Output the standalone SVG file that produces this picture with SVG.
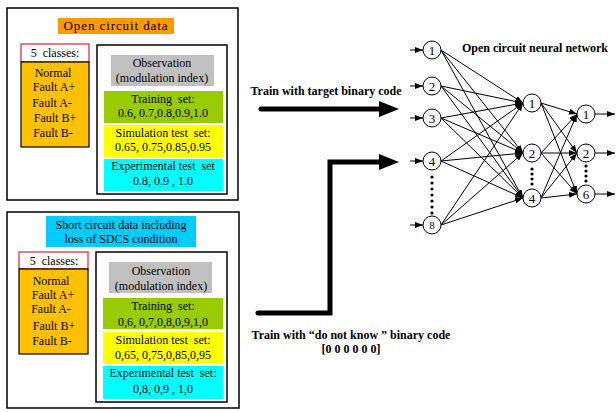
<svg xmlns="http://www.w3.org/2000/svg" width="616" height="412" viewBox="0 0 616 412">
<style>
text{font-family:"Liberation Serif","Times New Roman",serif;font-size:12px;fill:#000;text-anchor:middle}
.b{font-weight:bold;font-size:12px}
.n{font-size:13px}
.frame{fill:#fff;stroke:#000;stroke-width:1.5}
.cls{fill:#fff;stroke:#e0202a;stroke-width:1.2}
.org{fill:#ffc000;stroke:#000;stroke-width:1.2}
.node{fill:#fff;stroke:#000;stroke-width:1}
.e{stroke:#000;stroke-width:1;fill:none;marker-end:url(#ah)}
.thick{stroke:#000;stroke-width:5;fill:none;stroke-linecap:round;stroke-linejoin:miter}
</style>
<defs>
<marker id="ah" markerWidth="8" markerHeight="6" viewBox="0 0 8 6" refX="8" refY="3" orient="auto" markerUnits="userSpaceOnUse">
<path d="M0,0 L8,3 L0,6 Z" fill="#000"/>
</marker>
</defs>
<rect width="616" height="412" fill="#fff"/>

<g id="open-circuit-data">
<rect class="frame" x="7" y="8" width="231" height="192"/>
<rect x="58" y="18" width="116" height="16" fill="#ff9900"/>
<text x="116" y="30" style="font-size:13px;letter-spacing:0.9px">Open circuit data</text>
<rect class="cls" x="21" y="44" width="68" height="18"/>
<text x="55" y="57">5&#160; classes:</text>
<rect class="org" x="21" y="62" width="68" height="85"/>
<text x="53" y="77">Normal</text>
<text x="54" y="91">Fault A+</text>
<text x="52" y="107">Fault A-</text>
<text x="55" y="122">Fault B+</text>
<text x="53" y="137">Fault B-</text>
<rect class="frame" x="97" y="45" width="130" height="149"/>
<rect x="111" y="55" width="103" height="31" fill="#c0c0c0"/>
<text x="162" y="67">Observation</text>
<text x="162" y="82">(modulation index)</text>
<rect x="104" y="91" width="119" height="32" fill="#99cc00"/>
<text x="163" y="103">Training&#160; set:</text>
<text x="163" y="117">0.6, 0.7,0.8,0.9,1.0</text>
<rect x="104" y="125" width="119" height="32" fill="#ffff00"/>
<text x="163" y="137">Simulation test&#160; set:</text>
<text x="163" y="151">0.65, 0.75,0.85,0.95</text>
<rect x="104" y="159" width="119" height="32" fill="#00ffff"/>
<text x="163" y="170">Experimental test&#160; set</text>
<text x="163" y="185">0.8, 0.9 , 1.0</text>
</g>

<g id="short-circuit-data">
<rect class="frame" x="7" y="212" width="232" height="196"/>
<rect x="46" y="216" width="150" height="31" fill="#00ccff"/>
<text x="121" y="229">Short circuit data including</text>
<text x="121" y="243">loss of SDCS condition</text>
<rect class="cls" x="19" y="252" width="69" height="17"/>
<text x="54" y="265">5&#160; classes:</text>
<rect class="org" x="19" y="269" width="69" height="85"/>
<text x="51" y="285">Normal</text>
<text x="53" y="299">Fault A+</text>
<text x="51" y="313">Fault A-</text>
<text x="54" y="330">Fault B+</text>
<text x="52" y="345">Fault B-</text>
<rect class="frame" x="96" y="252" width="131" height="150"/>
<rect x="109" y="262" width="103" height="31" fill="#c0c0c0"/>
<text x="161" y="275">Observation</text>
<text x="161" y="290">(modulation index)</text>
<rect x="103" y="298" width="120" height="31" fill="#99cc00"/>
<text x="163" y="310">Training&#160; set:</text>
<text x="163" y="326">0,6, 0,7,0,8,0,9,1,0</text>
<rect x="103" y="332" width="120" height="32" fill="#ffff00"/>
<text x="163" y="344">Simulation test&#160; set:</text>
<text x="163" y="359">0,65, 0,75,0,85,0,95</text>
<rect x="103" y="366" width="120" height="33" fill="#00ffff"/>
<text x="163" y="377">Experimental test&#160; set:</text>
<text x="163" y="393">0,8, 0,9 , 1,0</text>
</g>

<g id="label-target">
<text class="b" x="326" y="95">Train with target binary code</text>
</g>
<g id="label-dnk">
<text class="b" x="351" y="339">Train with “do not know ” binary code</text>
<text class="b" x="351" y="353">[0 0 0 0 0 0]</text>
</g>
<g id="title">
<text class="b" x="535" y="52">Open circuit neural network</text>
</g>

<g id="connectors">
<path class="thick" d="M261,109 H382"/>
<polygon points="379,101 399,109 379,117" fill="#000"/>
<path class="thick" d="M258,313 H330 V162 H382"/>
<polygon points="379,154 399,162 379,170" fill="#000"/>

<line class="e" x1="410" y1="50" x2="423" y2="50"/>
<line class="e" x1="410" y1="86" x2="423" y2="86"/>
<line class="e" x1="410" y1="118" x2="423" y2="118"/>
<line class="e" x1="410" y1="161" x2="423" y2="161"/>
<line class="e" x1="410" y1="225" x2="423" y2="225"/>

<line class="e" x1="441" y1="50" x2="523" y2="103"/>
<line class="e" x1="441" y1="50" x2="523" y2="153"/>
<line class="e" x1="441" y1="50" x2="523" y2="198"/>
<line class="e" x1="441" y1="86" x2="523" y2="103"/>
<line class="e" x1="441" y1="86" x2="523" y2="153"/>
<line class="e" x1="441" y1="86" x2="523" y2="198"/>
<line class="e" x1="441" y1="118" x2="523" y2="103"/>
<line class="e" x1="441" y1="118" x2="523" y2="153"/>
<line class="e" x1="441" y1="118" x2="523" y2="198"/>
<line class="e" x1="441" y1="161" x2="523" y2="103"/>
<line class="e" x1="441" y1="161" x2="523" y2="153"/>
<line class="e" x1="441" y1="161" x2="523" y2="198"/>
<line class="e" x1="441" y1="225" x2="523" y2="103"/>
<line class="e" x1="441" y1="225" x2="523" y2="153"/>
<line class="e" x1="441" y1="225" x2="523" y2="198"/>

<line class="e" x1="541" y1="103" x2="577" y2="114"/>
<line class="e" x1="541" y1="103" x2="577" y2="153"/>
<line class="e" x1="541" y1="103" x2="577" y2="194"/>
<line class="e" x1="541" y1="153" x2="577" y2="114"/>
<line class="e" x1="541" y1="153" x2="577" y2="153"/>
<line class="e" x1="541" y1="153" x2="577" y2="194"/>
<line class="e" x1="541" y1="198" x2="577" y2="114"/>
<line class="e" x1="541" y1="198" x2="577" y2="153"/>
<line class="e" x1="541" y1="198" x2="577" y2="194"/>

<line class="e" x1="595" y1="114" x2="615" y2="114"/>
<line class="e" x1="595" y1="153" x2="615" y2="153"/>
<line class="e" x1="595" y1="194" x2="615" y2="194"/>
</g>

<g id="in1"><circle class="node" cx="432" cy="50" r="9"/><text class="n" x="432" y="55">1</text></g>
<g id="in2"><circle class="node" cx="432" cy="86" r="9"/><text class="n" x="432" y="91">2</text></g>
<g id="in3"><circle class="node" cx="432" cy="118" r="9"/><text class="n" x="432" y="123">3</text></g>
<g id="in4"><circle class="node" cx="432" cy="161" r="9"/><text class="n" x="432" y="166">4</text></g>
<g id="in8"><circle class="node" cx="432" cy="225" r="9"/><text x="432" y="229" style="font-size:11px">8</text></g>
<g id="in-dots" fill="#000">
<circle cx="432" cy="177" r="1.6"/><circle cx="432" cy="183" r="1.6"/><circle cx="432" cy="189" r="1.6"/><circle cx="432" cy="195" r="1.6"/><circle cx="432" cy="201" r="1.6"/><circle cx="432" cy="207" r="1.6"/><circle cx="432" cy="213" r="1.6"/>
</g>

<g id="h1"><circle class="node" cx="532" cy="103" r="9"/><text class="n" x="532" y="108">1</text></g>
<g id="h2"><circle class="node" cx="532" cy="153" r="9"/><text class="n" x="532" y="158">2</text></g>
<g id="h4"><circle class="node" cx="532" cy="198" r="9"/><text class="n" x="532" y="203">4</text></g>
<g id="h-dots" fill="#000">
<circle cx="532" cy="169" r="1.6"/><circle cx="532" cy="174" r="1.6"/><circle cx="532" cy="179" r="1.6"/><circle cx="532" cy="184" r="1.6"/>
</g>

<g id="o1"><circle class="node" cx="586" cy="114" r="9"/><text class="n" x="586" y="119">1</text></g>
<g id="o2"><circle class="node" cx="586" cy="153" r="9"/><text class="n" x="586" y="158">2</text></g>
<g id="o6"><circle class="node" cx="586" cy="194" r="9"/><text class="n" x="586" y="199">6</text></g>
<g id="o-dots" fill="#000">
<circle cx="586" cy="166" r="1.6"/><circle cx="586" cy="171" r="1.6"/><circle cx="586" cy="176" r="1.6"/><circle cx="586" cy="181" r="1.6"/>
</g>
</svg>
